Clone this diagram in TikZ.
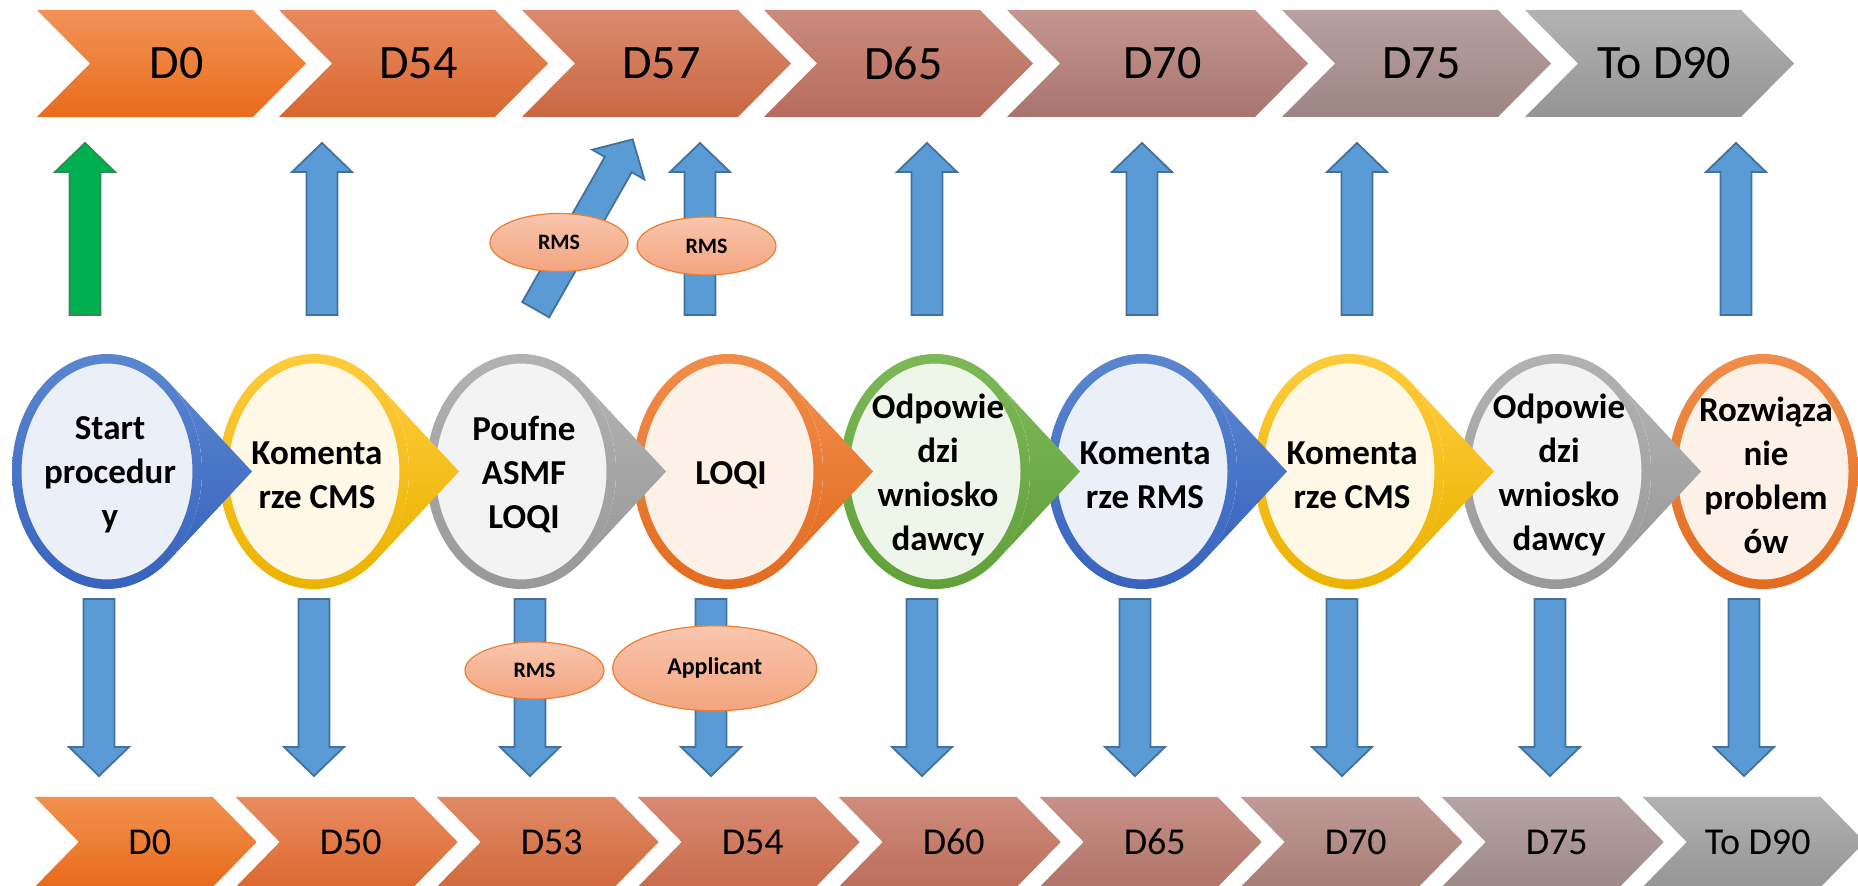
\documentclass[tikz,border=0pt]{standalone}
\usepackage{fontspec}
\setmainfont{Carlito}
\usepackage{tikz}
\usetikzlibrary{shapes.geometric}

% chevron colours, top row
\definecolor{hi1}{HTML}{F29358}\definecolor{lo1}{HTML}{E96C1B}
\definecolor{hi2}{HTML}{E78A5F}\definecolor{lo2}{HTML}{D96830}
\definecolor{hi3}{HTML}{DA8A6F}\definecolor{lo3}{HTML}{C96842}
\definecolor{hi4}{HTML}{CB8B7D}\definecolor{lo4}{HTML}{B66C5C}
\definecolor{hi5}{HTML}{C4968F}\definecolor{lo5}{HTML}{A8756E}
\definecolor{hi6}{HTML}{B7A1A1}\definecolor{lo6}{HTML}{9D8583}
\definecolor{hi7}{HTML}{B3B3B3}\definecolor{lo7}{HTML}{949494}
% chevron colours, bottom row
\definecolor{bh1}{HTML}{F2914F}\definecolor{bl1}{HTML}{E96B1B}
\definecolor{bh2}{HTML}{E98C60}\definecolor{bl2}{HTML}{DC6930}
\definecolor{bh3}{HTML}{E08A66}\definecolor{bl3}{HTML}{D16A3E}
\definecolor{bh4}{HTML}{D88A72}\definecolor{bl4}{HTML}{C86C4E}
\definecolor{bh5}{HTML}{CF8C7C}\definecolor{bl5}{HTML}{BC6E5C}
\definecolor{bh6}{HTML}{C79088}\definecolor{bl6}{HTML}{B07468}
\definecolor{bh7}{HTML}{C09A96}\definecolor{bl7}{HTML}{A87E76}
\definecolor{bh8}{HTML}{B6A4A4}\definecolor{bl8}{HTML}{9E8888}
\definecolor{bh9}{HTML}{B2B2B2}\definecolor{bl9}{HTML}{959595}
% stage circles
\definecolor{blueA}{HTML}{5A86D0}\definecolor{blueB}{HTML}{3863BE}\definecolor{blueC}{HTML}{EAEFF8}
\definecolor{goldA}{HTML}{FFCB3C}\definecolor{goldB}{HTML}{EBB300}\definecolor{goldC}{HTML}{FFF8E6}
\definecolor{greyA}{HTML}{B2B2B2}\definecolor{greyB}{HTML}{999999}\definecolor{greyC}{HTML}{F3F3F3}
\definecolor{orngA}{HTML}{F18D4A}\definecolor{orngB}{HTML}{E26C20}\definecolor{orngC}{HTML}{FDF0E7}
\definecolor{grnA}{HTML}{7DB858}\definecolor{grnB}{HTML}{62A03A}\definecolor{grnC}{HTML}{EEF5E9}
% arrows and tags
\definecolor{arrowfill}{HTML}{5B9BD5}\definecolor{arrowline}{HTML}{41719C}
\definecolor{gofill}{HTML}{00B050}\definecolor{goline}{HTML}{2E8B57}
\definecolor{tagtop}{HTML}{F8C6AE}\definecolor{tagbot}{HTML}{F3A47E}\definecolor{tagline}{HTML}{ED7D31}

\tikzset{
  pics/blockarrow/.style={code={
    \path[pic actions] (-15.5,0) -- (-15.5,#1-29) -- (-30,#1-29) -- (0,#1)
      -- (30,#1-29) -- (15.5,#1-29) -- (15.5,0) -- cycle;}},
  bluearrow/.style={fill=arrowfill, draw=arrowline, line width=1.8pt},
  greenarrow/.style={fill=gofill, draw=goline, line width=1.8pt},
  daytop/.style={font=\fontsize{48pt}{58pt}\selectfont},
  daybot/.style={font=\fontsize{38pt}{46pt}\selectfont},
  stagetext/.style={align=center, font=\fontsize{35pt}{44pt}\selectfont\bfseries},
  tag/.style={ellipse, draw=tagline, line width=1.2pt, top color=tagtop, bottom color=tagbot,
    inner sep=0pt, font=\fontsize{22pt}{26pt}\selectfont\bfseries},
}

\begin{document}
\begin{tikzpicture}[x=1pt, y=1pt]
    \useasboundingbox (0,0) rectangle (1858,886);
    \clip (0,0) rectangle (1858,886);

    % top time line
    \foreach \x/\w/\n/\lab/\nm in {37/269/1/D0/t0, 279/269/2/D54/t54, 522/269/3/D57/t57,
        764/269/4/D65/t65, 1007/301/5/D70/t70, 1282/269/6/D75/t75, 1525/269/7/To D90/t90} {
      \shade[top color=hi\n, bottom color=lo\n] (\x,876) -- ++(\w-53,0) -- ++(53,-53.5)
        -- ++(-53,-53.5) -- ++(-\w+53,0) -- ++(53,53.5) -- cycle;
      \node[daytop] (\nm) at (\x+\w/2+5,822.5) {\lab};
    }

    % bottom time line
    \foreach \n/\lab/\nm in {1/D0/b0, 2/D50/b50, 3/D53/b53, 4/D54/b54, 5/D60/b60,
        6/D65/b65, 7/D70/b70, 8/D75/b75, 9/To D90/b90} {
      \pgfmathsetmacro{\x}{34.7+201*(\n-1)}
      \shade[top color=bh\n, bottom color=bl\n] (\x,89) -- ++(178,0) -- ++(44,-45)
        -- ++(-44,-45) -- ++(-178,0) -- ++(44,45) -- cycle;
      \node[daybot] (\nm) at (\x+115,44) {\lab};
    }

    % arrows up and down
    \pic[greenarrow] at (85,571) {blockarrow=172};
    \pic[bluearrow, rotate=-29.65] at (535.7,576.3) {blockarrow=196};
    \foreach \x in {322,700,927,1142,1357,1736}
      \pic[bluearrow] at (\x,571) {blockarrow=172};
    \foreach \x in {99,314,530,711,922,1135,1342,1550,1744}
      \pic[bluearrow, rotate=180] at (\x,287) {blockarrow=177};

    % stages: rings first, pointers on top
    \foreach \i/\ra/\rb/\fc in {1/blueA/blueB/blueC, 2/goldA/goldB/goldC, 3/greyA/greyB/greyC,
        4/orngA/orngB/orngC, 5/grnA/grnB/grnC, 6/blueA/blueB/blueC, 7/goldA/goldB/goldC,
        8/greyA/greyB/greyC, 9/orngA/orngB/orngC} {
      \pgfmathsetmacro{\cx}{107+207*(\i-1)}
      \fill[\fc] (\cx,414.5) ellipse (90 and 112.5);
      \shade[top color=\ra, bottom color=\rb, even odd rule]
        (\cx,414.5) ellipse (95 and 117.5) (\cx,414.5) ellipse (85.5 and 108);
    }
    \foreach \i/\ra/\rb in {1/blueA/blueB, 2/goldA/goldB, 3/greyA/greyB, 4/orngA/orngB,
        5/grnA/grnB, 6/blueA/blueB, 7/goldA/goldB, 8/greyA/greyB} {
      \pgfmathsetmacro{\cx}{107+207*(\i-1)}
      \shade[top color=\ra, bottom color=\rb] (\cx+62.3,503.2) -- (\cx+145,414.5)
        -- (\cx+62.3,325.8) arc[start angle=-49.1, end angle=49.1, x radius=95, y radius=117.5]
        -- cycle;
    }
    \node[stagetext] (start)  at (110,411)  {Start\\procedur\\y};
    \node[stagetext] (cmsA)   at (317,411)  {Komenta\\rze CMS};
    \node[stagetext] (asmf)   at (524,411)  {Poufne\\ASMF\\LOQI};
    \node[stagetext] (loqi)   at (731,411)  {LOQI};
    \node[stagetext] (replyA) at (938,411)  {Odpowie\\dzi\\wniosko\\dawcy};
    \node[stagetext] (rms)    at (1145,411) {Komenta\\rze RMS};
    \node[stagetext] (cmsB)   at (1352,411) {Komenta\\rze CMS};
    \node[stagetext] (replyB) at (1559,411) {Odpowie\\dzi\\wniosko\\dawcy};
    \node[stagetext] (solve)  at (1766,411) {Rozwiąza\\nie\\problem\\ów};

    % who acts
    \node[tag, minimum width=138pt, minimum height=58pt] (rmsUpA) at (559,643.5) {RMS};
    \node[tag, minimum width=139pt, minimum height=58pt] (rmsUpB) at (706.5,640) {RMS};
    \node[tag, minimum width=139pt, minimum height=57pt] (rmsDown) at (534.5,215.5) {RMS};
    \node[tag, minimum width=204pt, minimum height=85pt, font=\fontsize{24pt}{28pt}\selectfont\bfseries]
      (appl) at (714.7,217.7) {Applicant};
\end{tikzpicture}
\end{document}
